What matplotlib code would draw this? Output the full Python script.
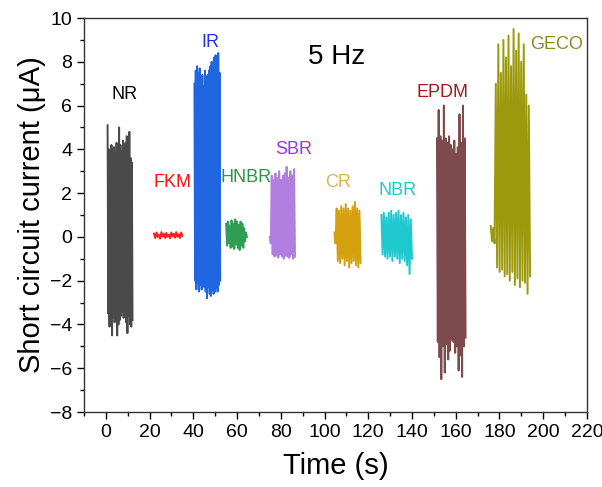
import numpy as np
import matplotlib
matplotlib.use("Agg")
import matplotlib.pyplot as plt
from matplotlib.ticker import MultipleLocator

plt.rcParams['font.family'] = ['Liberation Sans', 'DejaVu Sans']

# burst windows (s) and peak / trough values (uA)
names = ["NR", "FKM", "IR", "HNBR", "SBR", "CR", "NBR", "EPDM", "GECO"]
t_start = [0.8, 22.0, 40.5, 55.0, 75.0, 104.5, 126.0, 151.4, 176.0]
t_end = [12.2, 35.0, 52.3, 64.5, 86.5, 116.5, 140.0, 164.5, 194.0]

nr_hi = [5.1, 4.0, 3.9, 4.2, 4.0, 4.1, 3.8, 4.3, 4.0, 5.0, 4.2, 3.9, 4.4, 4.1, 4.3, 4.6, 4.0, 4.8, 3.6, 3.4]
nr_lo = [-3.5, -4.1, -3.8, -4.5, -3.7, -3.9, -3.6, -4.5, -4.0, -3.8, -3.6, -3.4, -3.7, -3.5, -3.9, -4.4, -3.6, -4.0, -4.1, -3.8]
fkm_hi = [0.15, 0.2, 0.1, 0.22, 0.15, 0.18, 0.1, 0.2, 0.15, 0.22, 0.12, 0.2]
fkm_lo = [-0.05, 0.0, -0.08, 0.02, -0.05, 0.0, -0.06, 0.03, -0.04, 0.0, -0.05, 0.05]
ir_hi = [7.0, 7.6, 7.8, 7.5, 7.7, 7.2, 7.4, 6.9, 7.6, 7.3, 7.4, 7.6, 7.8, 8.0, 7.9, 8.2, 8.3, 8.0, 8.4, 7.5]
ir_lo = [-2.0, -2.4, -2.1, -2.5, -2.2, -2.4, -2.0, -2.3, -2.5, -2.8, -2.3, -2.6, -2.7, -2.4, -2.6, -2.5, -2.3, -2.5, -2.2, -2.0]
hnbr_hi = [0.6, 0.7, 0.5, 0.75, 0.6, 0.8, 0.7, 0.55, 0.7, 0.6, 0.4, 0.2]
hnbr_lo = [-0.4, -0.3, -0.5, -0.45, -0.55, -0.35, -0.5, -0.6, -0.4, -0.5, -0.2, 0.0]
sbr_hi = [0.0, 2.8, 2.6, 2.9, 2.7, 3.0, 2.6, 2.8, 2.9, 3.2, 2.7, 3.0, 2.8, 3.1]
sbr_lo = [-0.3, -0.8, -0.9, -0.85, -0.95, -0.8, -0.9, -1.0, -0.85, -0.9, -0.95, -0.8, -1.0, -0.9]
cr_hi = [0.2, 1.3, 1.2, 1.4, 1.3, 1.5, 1.3, 1.2, 1.4, 1.6, 1.3, 1.2]
cr_lo = [-0.3, -1.1, -1.2, -1.0, -1.3, -1.1, -1.4, -1.2, -1.1, -1.3, -1.4, -1.2]
nbr_hi = [1.0, 1.1, 0.9, 1.1, 1.2, 1.0, 1.1, 1.2, 1.0, 1.1, 0.9, 1.0, 0.8]
nbr_lo = [-0.8, -0.9, -1.0, -0.9, -1.1, -0.9, -1.0, -1.2, -1.0, -1.1, -1.3, -1.7, -1.0]
epdm_hi = [4.5, 5.8, 4.6, 4.4, 6.0, 4.5, 4.3, 4.6, 4.2, 4.0, 4.4, 3.8, 4.1, 5.6, 4.3, 6.0, 4.5]
epdm_lo = [-4.8, -5.5, -6.5, -5.0, -6.2, -4.9, -5.6, -5.2, -4.7, -4.8, -5.3, -5.0, -6.1, -5.4, -6.4, -5.0, -4.6]
geco_hi = [0.5, 0.4, 7.0, 8.8, 7.5, 9.0, 8.2, 9.2, 7.8, 9.5, 8.5, 9.3, 8.0, 8.8, 6.5, 6.0]
geco_lo = [-0.2, -0.3, -1.4, -1.6, -1.5, -1.8, -1.7, -2.0, -1.6, -2.2, -1.9, -2.3, -2.0, -2.1, -2.6, -1.8]

peaks = [nr_hi, fkm_hi, ir_hi, hnbr_hi, sbr_hi, cr_hi, nbr_hi, epdm_hi, geco_hi]
troughs = [nr_lo, fkm_lo, ir_lo, hnbr_lo, sbr_lo, cr_lo, nbr_lo, epdm_lo, geco_lo]

line_colors = ["#4a4a4a", "#ff2020", "#1f66e0", "#2e9e55", "#b07fe0",
               "#d4a00e", "#1fc8cf", "#7d4b4b", "#9c9a0c"]
text_colors = ["black", "#ff1010", "#2233dd", "#229944", "#9933ee",
               "#e0b050", "#22c8d0", "#a01818", "#8a8a20"]
label_x = [8.6, 30.5, 47.7, 64.0, 86.0, 106.4, 133.6, 154.0, 206.0]
label_y = [6.5, 2.5, 8.9, 2.7, 4.0, 2.5, 2.1, 6.6, 8.8]

fig = plt.figure(figsize=(6.02, 4.87), dpi=100)
ax = fig.add_axes([0.1395, 0.154, 0.8355, 0.809])

for i in range(len(names)):
    zig = np.ravel(np.column_stack([peaks[i], troughs[i]]))
    t = np.linspace(t_start[i], t_end[i], len(zig))
    ax.plot(t, zig, color=line_colors[i], lw=1.4)
    ax.text(label_x[i], label_y[i], names[i], color=text_colors[i],
            fontsize=13, ha="center", va="center")

ax.text(105.5, 8.2, "5 Hz", fontsize=20, ha="center", va="center")

ax.set_xlim(-10, 220)
ax.set_ylim(-8, 10)
ax.xaxis.set_major_locator(MultipleLocator(20))
ax.xaxis.set_minor_locator(MultipleLocator(10))
ax.yaxis.set_major_locator(MultipleLocator(2))
ax.yaxis.set_minor_locator(MultipleLocator(1))
ax.tick_params(which="major", direction="out", length=5, width=1, labelsize=14)
ax.tick_params(which="minor", direction="out", length=3, width=1)
for s in ax.spines.values():
    s.set_linewidth(1.0)
    s.set_color("#333333")

ax.set_xlabel("Time (s)", fontsize=21, labelpad=8)
ax.set_ylabel("Short circuit current (\u03bcA)", fontsize=21, labelpad=3)

fig.savefig("out.png", dpi=100)
